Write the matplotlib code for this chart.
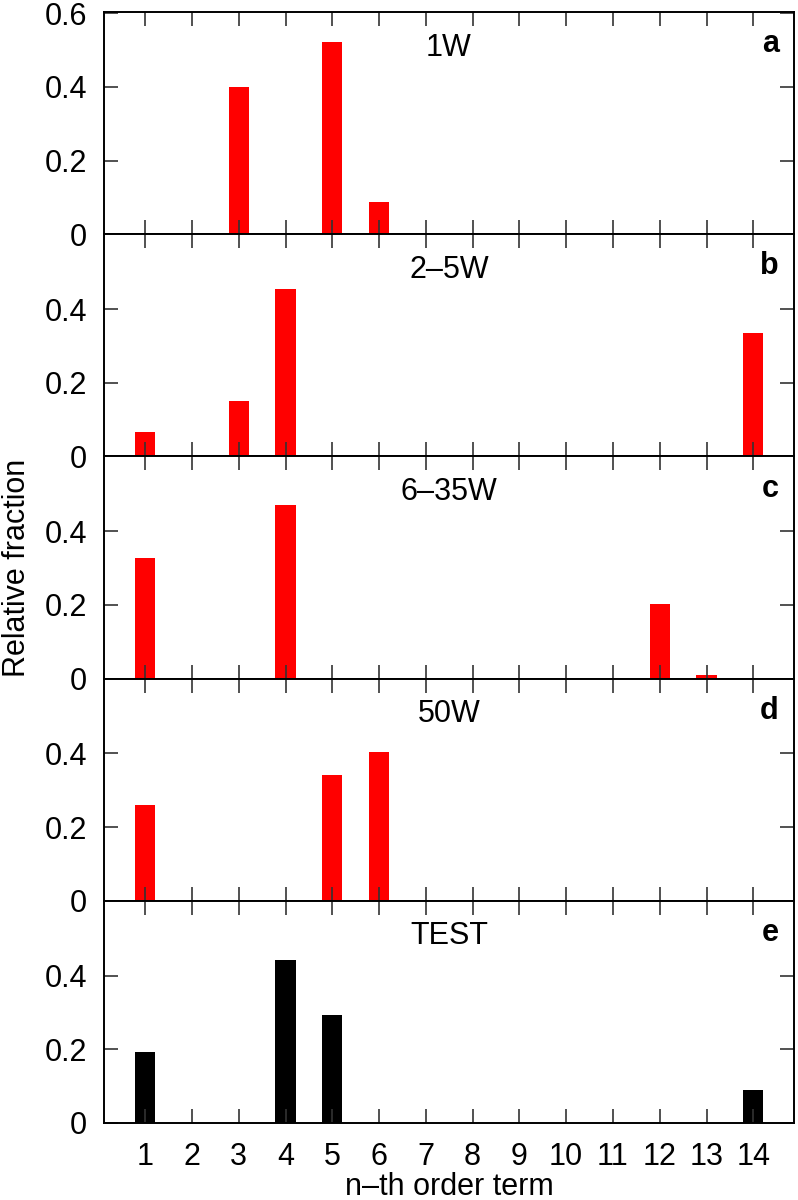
import matplotlib
matplotlib.use("Agg")
import matplotlib.pyplot as plt
import numpy as np

plt.rcParams['font.family'] = ['Liberation Sans', 'DejaVu Sans']

# n-th order terms (x axis)
terms = np.arange(1, 15)

# relative fractions, one list per panel (zeros where no bar)
frac_1w = [0, 0, 0.40, 0, 0.522, 0.087, 0, 0, 0, 0, 0, 0, 0, 0]
frac_2_5w = [0.066, 0, 0.149, 0.455, 0, 0, 0, 0, 0, 0, 0, 0, 0, 0.335]
frac_6_35w = [0.326, 0, 0, 0.471, 0, 0, 0, 0, 0, 0, 0, 0.203, 0.009, 0]
frac_50w = [0.259, 0, 0, 0, 0.341, 0.405, 0, 0, 0, 0, 0, 0, 0, 0]
frac_test = [0.192, 0, 0, 0.443, 0.293, 0, 0, 0, 0, 0, 0, 0, 0, 0.090]

panel_names = ["1W", "2\u20135W", "6\u201335W", "50W", "TEST"]
panel_letters = ["a", "b", "c", "d", "e"]
panel_colors = ["#ff0000", "#ff0000", "#ff0000", "#ff0000", "#000000"]
panel_data = [frac_1w, frac_2_5w, frac_6_35w, frac_50w, frac_test]

fig = plt.figure(figsize=(7.98, 12), dpi=100)
left, right = 104 / 798, 794 / 798
top, bottom = 1 - 12 / 1200, 1 - 1123 / 1200
h = (top - bottom) / 5

fs = 22
for i, (vals, name, letter, col) in enumerate(zip(panel_data, panel_names, panel_letters, panel_colors)):
    ax = fig.add_axes([left, top - (i + 1) * h, right - left, h])
    mask = np.array(vals) > 0
    ax.bar(terms[mask], np.array(vals)[mask], width=0.43, color=col, edgecolor='none')
    ax.set_xlim(0.12, 14.87)
    ax.set_ylim(0, 0.603)
    ax.set_xticks(terms)
    if i == 0:
        ax.set_yticks([0, 0.2, 0.4, 0.6])
        ax.set_yticklabels(["0", "0.2", "0.4", "0.6"])
    else:
        ax.set_yticks([0, 0.2, 0.4])
        ax.set_yticklabels(["0", "0.2", "0.4"])
    ax.tick_params(axis='both', direction='in', length=10, width=1.2,
                   top=True, right=True, labelsize=fs, color='#333333')
    ax.tick_params(axis='y', pad=12)
    ax.tick_params(axis='x', pad=14)
    if i < 4:
        ax.tick_params(axis='x', labelbottom=False)
    for sp in ax.spines.values():
        sp.set_linewidth(1.4)
    ax.text(0.5, 0.84, name, transform=ax.transAxes, ha='center', va='center', fontsize=fs)
    ax.text(0.978, 0.855, letter, transform=ax.transAxes, ha='right', va='center',
            fontsize=fs, fontweight='bold')
    if i == 4:
        ax.set_xlabel("n\u2013th order term", fontsize=fs, labelpad=0)

fig.text(0.021, (top + bottom) / 2, "Relative fraction", rotation=90,
         ha='center', va='center', fontsize=fs)

fig.savefig("out.png", dpi=100)
